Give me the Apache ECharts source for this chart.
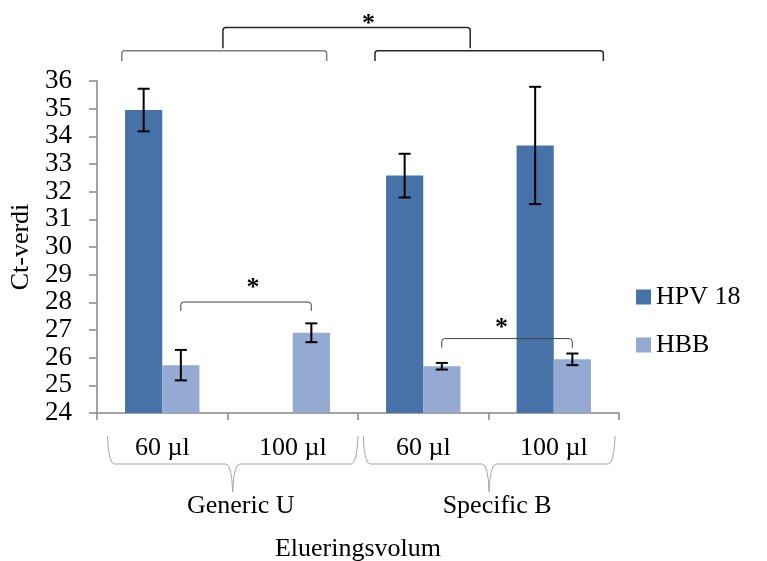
<!DOCTYPE html>
<html>
<head>
<meta charset="utf-8">
<script src="https://cdn.jsdelivr.net/npm/echarts@6/dist/echarts.min.js"></script>
<style>
  html, body { margin: 0; padding: 0; background: #fff; }
  #chart { width: 767px; height: 561px; }
</style>
</head>
<body>
<div id="chart"></div>
<script>
// Elution volume categories and their kit groups
const categories = ['60 µl', '100 µl', '60 µl', '100 µl'];
const groups = ['Generic U', 'Specific B'];

// Ct values (mean) and error (±)
const hpv18 = [34.95, null, 32.58, 33.67];
const hpv18Err = [0.77, null, 0.79, 2.12];
const hbb = [25.73, 26.90, 25.69, 25.94];
const hbbErr = [0.55, 0.34, 0.12, 0.21];

// Value axis range
const yMin = 24, yMax = 36, yStep = 1;

// Significance brackets, in category units (x) and Ct units (y)
const brackets = [
  { from: 0.19, to: 1.76, level: 37.09, legEnd: 36.72, color: '#7f7f7f', width: 1.5 },
  { from: 2.13, to: 3.88, level: 37.09, legEnd: 36.72, color: '#262626', width: 1.5 },
  { from: 0.965, to: 2.86, level: 37.93, legEnd: 37.18, color: '#262626', width: 1.5 },
  { from: 0.642, to: 1.642, level: 28.01, legEnd: 27.69, color: '#404040', width: 1 },
  { from: 2.642, to: 3.642, level: 26.69, legEnd: 26.36, color: '#404040', width: 1 }
];
const stars = [
  { x: 2.08, y: 38.04 },
  { x: 1.196, y: 28.51 },
  { x: 3.10, y: 27.08 }
];
// Group braces under the axis: category spans
const groupSpans = [[0.08, 2.0], [2.04, 3.97]];

const FONT = 'Liberation Serif';
const barCatGap = 0.43;

function errData(vals, errs) {
  const out = [];
  vals.forEach((v, i) => {
    if (v != null && errs[i] != null) out.push([i, v - errs[i], v + errs[i]]);
  });
  return out;
}

function errorRenderer(sign) {
  return function (params, api) {
    const i = api.value(0);
    const lo = api.coord([i, api.value(1)]);
    const hi = api.coord([i, api.value(2)]);
    const band = api.size([1, 0])[0];
    const x = hi[0] + sign * band * (1 - barCatGap) / 4;
    const cap = 6;
    const st = { stroke: '#000', lineWidth: 2 };
    return {
      type: 'group',
      children: [
        { type: 'line', shape: { x1: x, y1: hi[1], x2: x, y2: lo[1] }, style: st },
        { type: 'line', shape: { x1: x - cap, y1: hi[1], x2: x + cap, y2: hi[1] }, style: st },
        { type: 'line', shape: { x1: x - cap, y1: lo[1], x2: x + cap, y2: lo[1] }, style: st }
      ]
    };
  };
}

// Brackets, stars, group braces and group names, placed through the axes
function annotationRenderer(params, api) {
  const c0 = api.coord([0, yMin]);
  const band = api.size([1, 0])[0];
  const px = u => c0[0] + (u - 0.5) * band;
  const py = v => api.coord([0, v])[1];
  const axisY = c0[1];
  const children = [];
  const r = 3;

  brackets.forEach(b => {
    const x1 = px(b.from), x2 = px(b.to), y = py(b.level), yl = py(b.legEnd);
    children.push({
      type: 'path',
      shape: {
        pathData: `M${x1} ${yl} L${x1} ${y + r} Q${x1} ${y} ${x1 + r} ${y} L${x2 - r} ${y} Q${x2} ${y} ${x2} ${y + r} L${x2} ${yl}`
      },
      style: { stroke: b.color, lineWidth: b.width, fill: 'none' }
    });
  });

  stars.forEach(s => {
    children.push({
      type: 'text',
      style: {
        x: px(s.x), y: py(s.y),
        text: '*', font: `bold 26px "${FONT}"`, fill: '#000',
        align: 'center', verticalAlign: 'middle'
      }
    });
  });

  const yTop = axisY + 23, yMid = axisY + 51, yPt = axisY + 79;
  groupSpans.forEach((g, k) => {
    const xl = px(g[0]), xr = px(g[1]), xc = (xl + xr) / 2;
    children.push({
      type: 'path',
      shape: {
        pathData:
          `M${xl} ${yTop} Q${xl + 1} ${yMid} ${xl + 7} ${yMid} L${xc - 7} ${yMid} ` +
          `Q${xc - 1} ${yMid} ${xc} ${yPt} ` +
          `M${xc} ${yPt} Q${xc + 1} ${yMid} ${xc + 7} ${yMid} L${xr - 7} ${yMid} ` +
          `Q${xr - 1} ${yMid} ${xr} ${yTop}`
      },
      style: { stroke: '#a6a6a6', lineWidth: 1, fill: 'none' }
    });
    children.push({
      type: 'text',
      style: {
        x: xc + 8, y: axisY + 93,
        text: groups[k], font: `26px "${FONT}"`, fill: '#000',
        align: 'center', verticalAlign: 'middle'
      }
    });
  });

  return { type: 'group', children };
}

const chart = echarts.init(document.getElementById('chart'), null, { renderer: 'canvas' });

const axisGray = '#868686';

chart.setOption({
  animation: false,
  backgroundColor: '#fff',
  textStyle: { fontFamily: FONT },
  grid: {
    left: 97, right: 148, top: 81, bottom: 148,
    containLabel: false,
    outerBoundsMode: 'none'
  },
  legend: {
    orient: 'vertical',
    left: 636,
    top: 284,
    padding: 0,
    itemWidth: 15,
    itemHeight: 15,
    itemGap: 22,
    icon: 'rect',
    data: ['HPV 18', 'HBB'],
    textStyle: { fontFamily: FONT, fontSize: 26, color: '#000' }
  },
  xAxis: {
    type: 'category',
    data: categories,
    axisLine: { lineStyle: { color: axisGray, width: 1.5 } },
    axisTick: { show: true, length: 7, lineStyle: { color: axisGray, width: 1.5 } },
    axisLabel: { fontFamily: FONT, fontSize: 26, color: '#000', margin: 22 },
    name: 'Elueringsvolum',
    nameLocation: 'middle',
    nameGap: 123,
    nameTextStyle: { fontFamily: FONT, fontSize: 26, color: '#000' }
  },
  yAxis: {
    type: 'value',
    min: yMin,
    max: yMax,
    interval: yStep,
    splitLine: { show: false },
    axisLine: { show: true, lineStyle: { color: axisGray, width: 1.5 } },
    axisTick: { show: true, length: 8, lineStyle: { color: axisGray, width: 1.5 } },
    axisLabel: { fontFamily: FONT, fontSize: 27, color: '#000', margin: 25 },
    name: 'Ct-verdi',
    nameLocation: 'middle',
    nameGap: 63,
    nameTextStyle: { fontFamily: FONT, fontSize: 26, color: '#000' }
  },
  series: [
    {
      name: 'HPV 18', type: 'bar', data: hpv18,
      barGap: '0%', barCategoryGap: (barCatGap * 100) + '%',
      itemStyle: { color: '#4672A7' }
    },
    {
      name: 'HBB', type: 'bar', data: hbb,
      barGap: '0%', barCategoryGap: (barCatGap * 100) + '%',
      itemStyle: { color: '#94AAD2' }
    },
    {
      type: 'custom', name: 'HPV 18 err', data: errData(hpv18, hpv18Err),
      renderItem: errorRenderer(-1), z: 10, silent: true
    },
    {
      type: 'custom', name: 'HBB err', data: errData(hbb, hbbErr),
      renderItem: errorRenderer(1), z: 10, silent: true
    },
    {
      type: 'custom', name: 'annotations', data: [[0, yMin]],
      renderItem: annotationRenderer, clip: false, z: 11, silent: true
    }
  ]
});
</script>
</body>
</html>
